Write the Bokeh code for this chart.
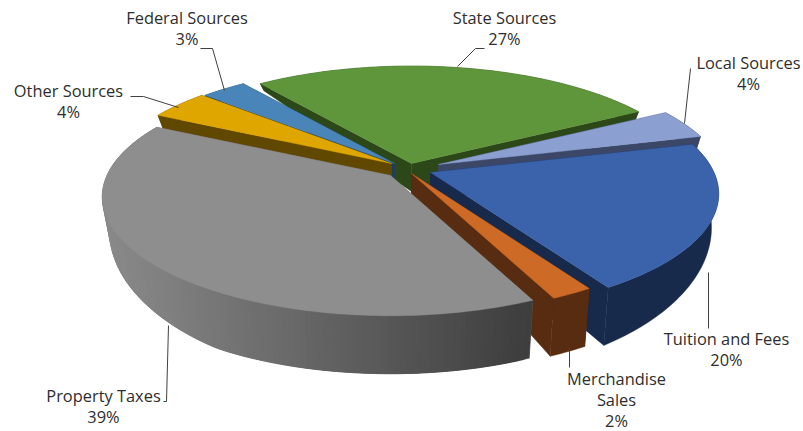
import math
from bokeh.plotting import figure
from bokeh.models import ColumnDataSource
from bokeh.core.properties import value
from bokeh.embed import file_html
from bokeh.resources import INLINE

# --- data -------------------------------------------------------------
categories = ["Other Sources", "Federal Sources", "State Sources", "Local Sources",
              "Tuition and Fees", "Merchandise Sales", "Property Taxes"]
percents = [4, 3, 27, 4, 20, 2, 39]

# --- styles -----------------------------------------------------------
top_colors = ["#e0a600", "#4a85b9", "#5f963c", "#8c9fd1", "#3a63ab", "#cd6b26", "#8e8e8e"]
wall_colors = ["#604800", "#1f3e5e", "#2c4818", "#3c4768", "#172a4b", "#582c10", "#6a6a6a"]
vertex_x = [391, 394, 411, 438, 430, 411, 390]
vertex_y = [163, 163, 163, 164, 172, 173, 175]
draw_order = [2, 1, 0, 3, 4, 5, 6]

label_lines = [["Other Sources", "4%"], ["Federal Sources", "3%"], ["State Sources", "27%"],
               ["Local Sources", "4%"], ["Tuition and Fees", "20%"],
               ["Merchandise", "Sales", "2%"], ["Property Taxes", "39%"]]
label_x = [68, 186.5, 504, 748, 726, 616, 103]
label_y = [90, 17, 17, 62, 338, 377.5, 395]
line_gap = 21
leaders = [
    ([130, 143, 178], [96, 96, 107]),
    ([200, 212, 224], [48, 48, 90]),
    ([484, 475, 457], [48, 48, 66]),
    ([690, 684], [68, 123]),
    ([708, 708], [272, 328]),
    ([569, 569], [347, 367]),
    ([168, 166, 163], [325, 401, 401]),
]

START_ANGLE = 153.0
R, F, K = 283.5, 115.0, 0.18
D, DF, DMAX, NARROW = 28.0, 30.0, 58.0, 0.025


def pt(vx, vy, deg, r=1.0, z=0):
    X, Y = r * math.cos(math.radians(deg)), r * math.sin(math.radians(deg))
    s = 1.0 / (1.0 + K * Y)
    depth = min(DMAX, D - DF * Y * s) * z
    return vx + R * X * s * (1 - NARROW * z), vy + depth - F * Y * s


total = sum(percents)
bounds = [START_ANGLE]
for v in percents:
    bounds.append(bounds[-1] - v / total * 360.0)

xs, ys, cols = [], [], []


def add(points, color):
    xs.append([q[0] for q in points])
    ys.append([q[1] for q in points])
    cols.append(color)


def grey_at(x):
    t = min(1.0, max(0.0, (x - 107) / (530 - 107)))
    g = round(0x8a + (0x3e - 0x8a) * t)
    return "#%02x%02x%02x" % (g, g, g)


for i in draw_order:
    a0, a1 = bounds[i], bounds[i + 1]
    vx, vy = vertex_x[i], vertex_y[i]
    n = max(2, int(abs(a1 - a0)))
    angs = [a0 + (a1 - a0) * j / n for j in range(n + 1)]
    # radial walls
    for a in (a0, a1):
        add([pt(vx, vy, a, 0), pt(vx, vy, a), pt(vx, vy, a, 1, 1), pt(vx, vy, a, 0, 1)], wall_colors[i])
    # outer wall
    if categories[i] == "Property Taxes":
        for j in range(n):
            u, w = angs[j], angs[min(n, j + 3)]  # overlap the next bands to hide the seams
            q = [pt(vx, vy, u), pt(vx, vy, w), pt(vx, vy, w, 1, 1), pt(vx, vy, u, 1, 1)]
            add(q, grey_at(q[0][0]))
    else:
        add([pt(vx, vy, a) for a in angs] + [pt(vx, vy, a, 1, 1) for a in reversed(angs)], wall_colors[i])
    # top
    add([pt(vx, vy, a0, 0)] + [pt(vx, vy, a) for a in angs], top_colors[i])

p = figure(width=803, height=431, x_range=(0, 803), y_range=(431, 0),
           output_backend="svg", toolbar_location=None, min_border=0)
p.axis.visible = False
p.grid.visible = False
p.outline_line_color = None

p.patches("xs", "ys", source=ColumnDataSource(dict(xs=xs, ys=ys, c=cols)),
          fill_color="c", line_color="c", line_width=0.4)

for lx, ly in leaders:
    p.line(lx, ly, line_color="#404040", line_width=1)

tx, ty, tt = [], [], []
for lines, x0, y0 in zip(label_lines, label_x, label_y):
    for j, t in enumerate(lines):
        tx.append(x0)
        ty.append(y0 + j * line_gap)
        tt.append(t)
p.text(tx, ty, text=tt, text_font=value("Open Sans"), text_font_size="16.4px", text_color="#2e2e2e",
       text_align="center", text_baseline="middle")

open("out.html", "w").write(file_html(p, INLINE))
